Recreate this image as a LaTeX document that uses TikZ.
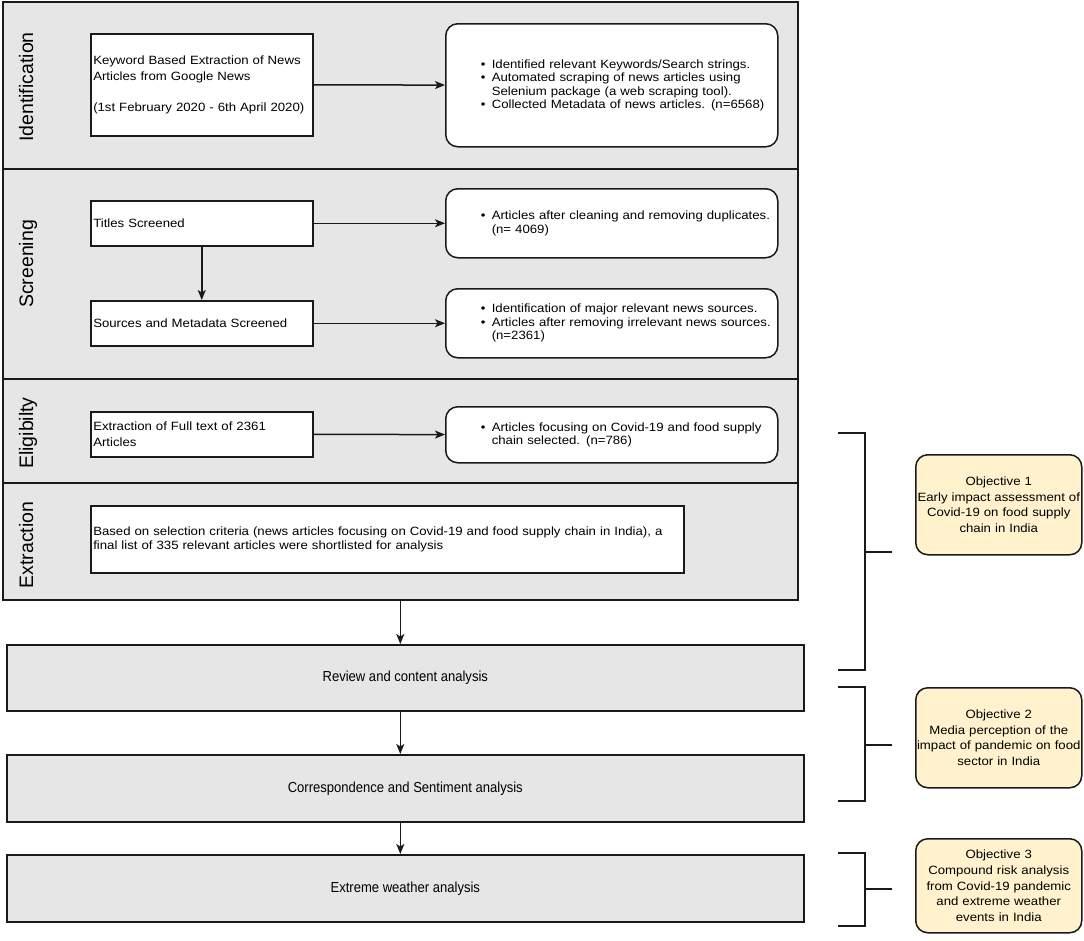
\documentclass[tikz,border=0pt]{standalone}
\usepackage{fontspec}
\setmainfont[FakeStretch=1.1]{Liberation Sans}
\newfontfamily\lanefont{Liberation Sans}
\newfontfamily\condfont[FakeStretch=0.9]{Liberation Sans}
\usetikzlibrary{arrows.meta}
\definecolor{lanegray}{HTML}{E6E6E6}
\definecolor{objfill}{HTML}{FFF2CC}
\definecolor{edgecol}{HTML}{1A1A1A}
\newcommand{\bulitem}{\hspace*{35pt}\makebox[11pt][l]{\textbullet}}
\newcommand{\bulcont}{\hspace*{46pt}}
\begin{document}
\begin{tikzpicture}[x=1pt,y=-1pt,
  lane/.style={draw=edgecol, line width=1.6pt, fill=lanegray, anchor=north west, inner sep=0pt, minimum width=795pt},
  lanelabel/.style={rotate=90, anchor=base, font=\lanefont\fontsize{19.5}{22}\selectfont, inner sep=0pt},
  leftbox/.style={draw=edgecol, line width=1.5pt, fill=white, anchor=north west, inner xsep=2.5pt, inner ysep=0pt,
    text width=217pt, minimum width=222pt, align=left, font=\fontsize{12}{15.5}\selectfont},
  bulbox/.style={draw=edgecol, line width=1.5pt, fill=white, rounded corners=12pt, anchor=north west, inner xsep=0pt, inner ysep=0pt,
    text width=332pt, minimum width=332pt, align=left, font=\fontsize{12}{13.5}\selectfont},
  anabox/.style={draw=edgecol, line width=1.6pt, fill=lanegray, anchor=north west, inner sep=0pt, minimum width=797pt,
    align=center, font=\condfont\fontsize{14.5}{17}\selectfont},
  objbox/.style={draw=edgecol, line width=1.5pt, fill=objfill, rounded corners=12pt, anchor=north west, inner xsep=0pt, inner ysep=0pt,
    text width=166pt, minimum width=166pt, align=center, font=\fontsize{12}{15.7}\selectfont},
  arr/.style={draw=edgecol, line width=1.5pt, -{Stealth[length=10pt,width=8pt,inset=2.5pt]}},
  brk/.style={draw=edgecol, line width=2.6pt}
]
\useasboundingbox[fill=white] (0,0) rectangle (1084,940);

% lanes
\node[lane, minimum height=167pt] (laneI) at (2,1) {};
\node[lane, minimum height=210pt] (laneS) at (2,168) {};
\node[lane, minimum height=104pt] (laneE) at (2,378) {};
\node[lane, minimum height=117pt] (laneX) at (2,482) {};

\node[lanelabel] (labI) at (33,87) {Identification};
\node[lanelabel] (labS) at (33,264) {Screening};
\node[lanelabel] (labE) at (33,433) {Eligibilty};
\node[lanelabel] (labX) at (33,545) {Extraction};

% identification
\node[leftbox, minimum height=102pt] (kw) at (90,33)
  {Keyword Based Extraction of News\\Articles from Google News\\\mbox{}\\(1st February 2020 - 6th April 2020)};
\node[bulbox, minimum height=123pt] (kwres) at (445,23)
  {\bulitem Identified relevant Keywords/Search strings.\\
   \bulitem Automated scraping of news articles using\\
   \bulcont Selenium package (a web scraping tool).\\
   \bulitem Collected Metadata of news articles. (n=6568)};

% screening
\node[leftbox, minimum height=45pt] (ts) at (90,200) {Titles Screened};
\node[leftbox, minimum height=45pt] (sm) at (90,300) {Sources and Metadata Screened};
\node[bulbox, minimum height=69pt] (tsres) at (445,188)
  {\bulitem Articles after cleaning and removing duplicates.\\
   \bulcont (n= 4069)};
\node[bulbox, minimum height=69pt] (smres) at (445,288)
  {\bulitem Identification of major relevant news sources.\\
   \bulitem Articles after removing irrelevant news sources.\\
   \bulcont (n=2361)};

% eligibility
\node[leftbox, minimum height=45pt] (ft) at (90,411) {Extraction of Full text of 2361\\Articles};
\node[bulbox, minimum height=56pt] (ftres) at (445,406)
  {\bulitem Articles focusing on Covid-19 and food supply\\
   \bulcont chain selected. (n=786)};

% extraction
\node[leftbox, text width=588pt, minimum width=593pt, minimum height=67pt, font=\fontsize{12}{13.5}\selectfont] (fl) at (90,505)
  {Based on selection criteria (news articles focusing on Covid-19 and food supply chain in India), a\\final list of 335 relevant articles were shortlisted for analysis};

% analyses
\node[anabox, minimum height=66pt] (rev) at (6,644) {Review and content analysis};
\node[anabox, minimum height=67pt] (corr) at (6,754) {Correspondence and Sentiment analysis};
\node[anabox, minimum height=67pt] (ext) at (6,854) {Extreme weather analysis};

% objectives
\node[objbox, minimum height=100pt] (obj1) at (915,454)
  {Objective 1\\Early impact assessment of\\Covid-19 on food supply\\chain in India};
\node[objbox, minimum height=100pt] (obj2) at (915,687)
  {Objective 2\\Media perception of the\\impact of pandemic on food\\sector in India};
\node[objbox, minimum height=94pt] (obj3) at (915,838)
  {Objective 3\\Compound risk analysis\\from Covid-19 pandemic\\and extreme weather\\events in India};

% connectors
\draw[arr] (kw) -- (kwres);
\draw[arr] (ts) -- (tsres);
\draw[arr] (sm) -- (smres);
\draw[arr] (ts) -- (sm);
\draw[arr] (ft) -- (ftres);
\draw[arr] (laneX.south) -- (laneX.south |- rev.north);
\draw[arr] (rev.south -| laneX.south) -- (corr.north -| laneX.south);
\draw[arr] (corr.south -| laneX.south) -- (ext.north -| laneX.south);

% brackets
\draw[brk] (838,433) -- (865,433) -- (865,670) -- (838,670);
\coordinate (t1) at (892,552);
\draw[brk] (865,552) -- (t1);
\draw[brk] (838,687) -- (865,687) -- (865,801) -- (838,801);
\coordinate (t2) at (892,745);
\draw[brk] (865,745) -- (t2);
\draw[brk] (838,853) -- (865,853) -- (865,926) -- (838,926);
\coordinate (t3) at (892,889);
\draw[brk] (865,889) -- (t3);
\end{tikzpicture}
\end{document}
